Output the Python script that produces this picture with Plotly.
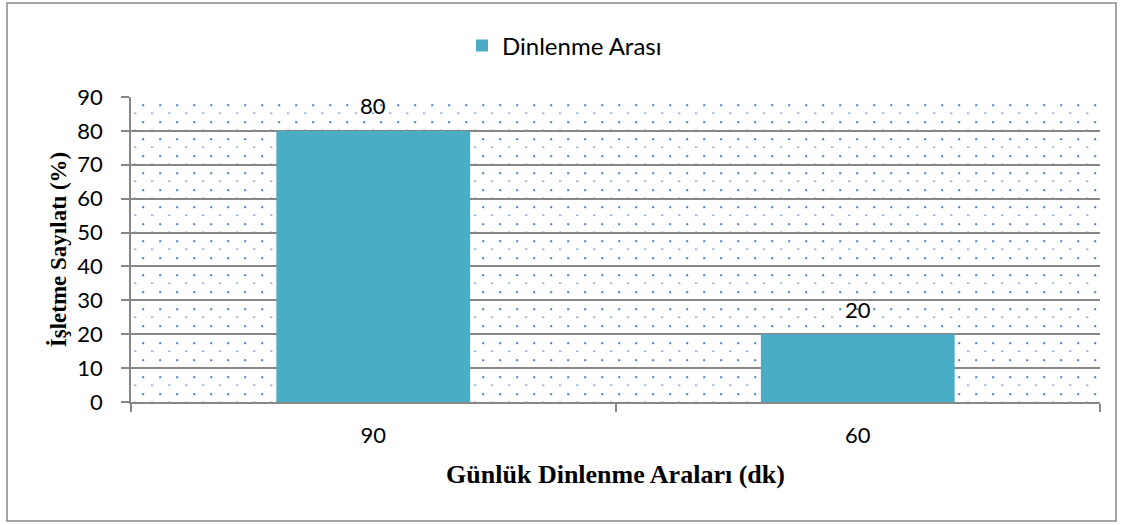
import base64
import plotly.graph_objects as go

categories = ["90", "60"]
values = [80, 20]
series_name = "Dinlenme Arası"
y_ticks = [0, 10, 20, 30, 40, 50, 60, 70, 80, 90]

BAR_COLOR = "#4BACC6"
GRID = "#878787"
SANS = "Lato, 'Open Sans', sans-serif"
SERIF = "'Liberation Serif', 'DejaVu Serif', serif"
TICK_FONT = dict(family=SANS, size=22, color="#000000")
LEGEND_FONT = dict(family=SANS, size=24, color="#000000")
XTITLE_FONT = dict(family=SERIF, size=26, color="#000000")
YTITLE_FONT = dict(family=SERIF, size=23, color="#000000")

# plot area geometry (pixels)
W, H = 1128, 525
L, R, T, B = 131, 28, 97, 123
PW, PH = W - L - R, H - T - B

svg = f'''<svg xmlns="http://www.w3.org/2000/svg" width="{PW}" height="{PH}" viewBox="0 0 {PW} {PH}" preserveAspectRatio="none">
<defs><pattern id="p" x="0" y="0" width="17" height="17" patternUnits="userSpaceOnUse">
<rect x="11.2" y="7.2" width="2" height="2" fill="#4A7EC6"/>
<rect x="3" y="15.6" width="2.4" height="1.1" fill="#6D95CF"/>
</pattern></defs>
<rect x="0" y="0" width="{PW}" height="{PH}" fill="#ffffff"/>
<rect x="0" y="0" width="{PW}" height="{PH}" fill="url(#p)"/>
</svg>'''
bg_uri = "data:image/svg+xml;base64," + base64.b64encode(svg.encode()).decode()

fig = go.Figure()
fig.add_trace(go.Bar(
    x=categories, y=values, name=series_name,
    marker=dict(color=BAR_COLOR, line=dict(width=0)),
    width=0.4, showlegend=True,
))

for i, v in enumerate(values):
    fig.add_annotation(x=i, y=v, text=str(v), showarrow=False, yshift=25,
                       font=TICK_FONT, xref="x", yref="y")

# outer border box
fig.add_shape(type="rect", xref="paper", yref="paper",
              x0=(7 - L) / PW, x1=(1116 - L) / PW,
              y0=(H - B - 521) / PH, y1=(H - B - 3) / PH,
              line=dict(color="#898989", width=1.5), fillcolor="rgba(0,0,0,0)", layer="below")

fig.update_layout(
    width=W, height=H,
    margin=dict(l=L, r=R, t=T, b=B, autoexpand=False),
    paper_bgcolor="#ffffff",
    plot_bgcolor="rgba(0,0,0,0)",
    images=[dict(source=bg_uri, xref="paper", yref="paper", x=0, y=1,
                 sizex=1, sizey=1, xanchor="left", yanchor="top",
                 sizing="stretch", layer="below")],
    legend=dict(orientation="h", x=(462 - L) / PW, xanchor="left",
                y=(H - B - 46) / PH, yanchor="middle",
                font=LEGEND_FONT, bgcolor="rgba(0,0,0,0)"),
    xaxis=dict(
        type="category", tickson="boundaries", ticks="outside", ticklen=8,
        tickcolor=GRID, tickwidth=1.5, showgrid=False,
        showline=True, linecolor=GRID, linewidth=1.5,
        tickfont=TICK_FONT, ticklabelstandoff=13, tickangle=0,
        range=[-0.5, 1.5],
        title=dict(text="<b>Günlük Dinlenme Araları (dk)</b>", font=XTITLE_FONT, standoff=18),
    ),
    yaxis=dict(
        range=[0, 90], tickvals=y_ticks, ticks="outside", ticklen=8,
        tickcolor=GRID, tickwidth=1.5,
        showgrid=True, gridcolor=GRID, gridwidth=1.5,
        showline=True, linecolor=GRID, linewidth=1.5,
        zeroline=False, tickfont=TICK_FONT, ticklabelstandoff=14,
        title=dict(text="<b>İşletme Sayılatı (%)</b>", font=YTITLE_FONT, standoff=4),
    ),
)

fig.write_html("out.html", config={"displayModeBar": False},
               post_script="document.body.style.margin='0';")
